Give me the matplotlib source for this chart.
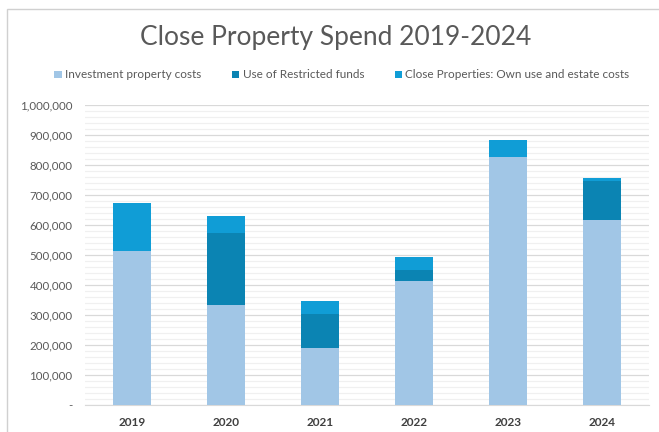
import matplotlib
matplotlib.use("Agg")
import matplotlib.pyplot as plt
import numpy as np
from matplotlib.patches import Rectangle
from matplotlib.ticker import MultipleLocator, FuncFormatter

# ── data ─────────────────────────────────────────────────────
years       = ["2019", "2020", "2021", "2022", "2023", "2024"]
investment  = [515000, 333000, 191000, 414000, 828000, 618000]
restricted  = [0, 239000, 112000, 36000, 0, 128000]
own_use     = [160000, 59000, 45000, 44000, 54000, 11000]

series_labels = ["Investment property costs",
                 "Use of Restricted funds",
                 "Close Properties: Own use and estate costs"]
colors = ["#A1C6E6", "#0B84B3", "#109DD6"]

plt.rcParams["font.family"] = ["Lato", "DejaVu Sans"]

fig = plt.figure(figsize=(6.59, 4.32), dpi=100)
ax = fig.add_axes([85/659, 1 - 405/432, 564/659, 300/432])

x = np.arange(len(years))
bottom = np.zeros(len(years))
for vals, lab, col in zip([investment, restricted, own_use], series_labels, colors):
    ax.bar(x, vals, width=0.4, bottom=bottom, color=col, label=lab, zorder=3)
    bottom += np.array(vals)

ax.set_xlim(-0.5, len(years) - 0.5)
ax.set_ylim(0, 1000000)
ax.yaxis.set_major_locator(MultipleLocator(100000))
ax.yaxis.set_minor_locator(MultipleLocator(20000))
ax.yaxis.set_major_formatter(FuncFormatter(lambda v, p: "-" if v == 0 else f"{v:,.0f}"))
ax.grid(axis="y", which="major", color="#D9D9D9", linewidth=0.9, zorder=0)
ax.grid(axis="y", which="minor", color="#F0F0F0", linewidth=0.9, zorder=0)

ax.set_xticks(x)
ax.set_xticklabels(years, fontweight="bold")
ax.tick_params(axis="x", length=0, pad=9, labelsize=8.5, labelcolor="#404040")
ax.tick_params(axis="y", which="both", length=0, pad=9, labelsize=8.3, labelcolor="#595959")
for s in ["top", "right", "left"]:
    ax.spines[s].set_visible(False)
ax.spines["bottom"].set_color("#D9D9D9")

# chart frame, cropped on the right and bottom
fig.patches.append(Rectangle((7/659, -0.1), 1.1, 1.1 - 9/432, transform=fig.transFigure,
                             fill=False, edgecolor="#D0D0D0", linewidth=1.0))

fig.text(336/659, 1 - 38/432, "Close Property Spend 2019-2024", ha="center", va="center",
         fontsize=19, color="#595959")

fig.legend(loc="center", bbox_to_anchor=(342/659, 1 - 75/432), ncol=3, frameon=False,
           fontsize=8.5, handlelength=0.6, handleheight=0.6, handletextpad=0.3,
           columnspacing=2.6, labelcolor="#595959")

fig.savefig("out.png", dpi=100)
